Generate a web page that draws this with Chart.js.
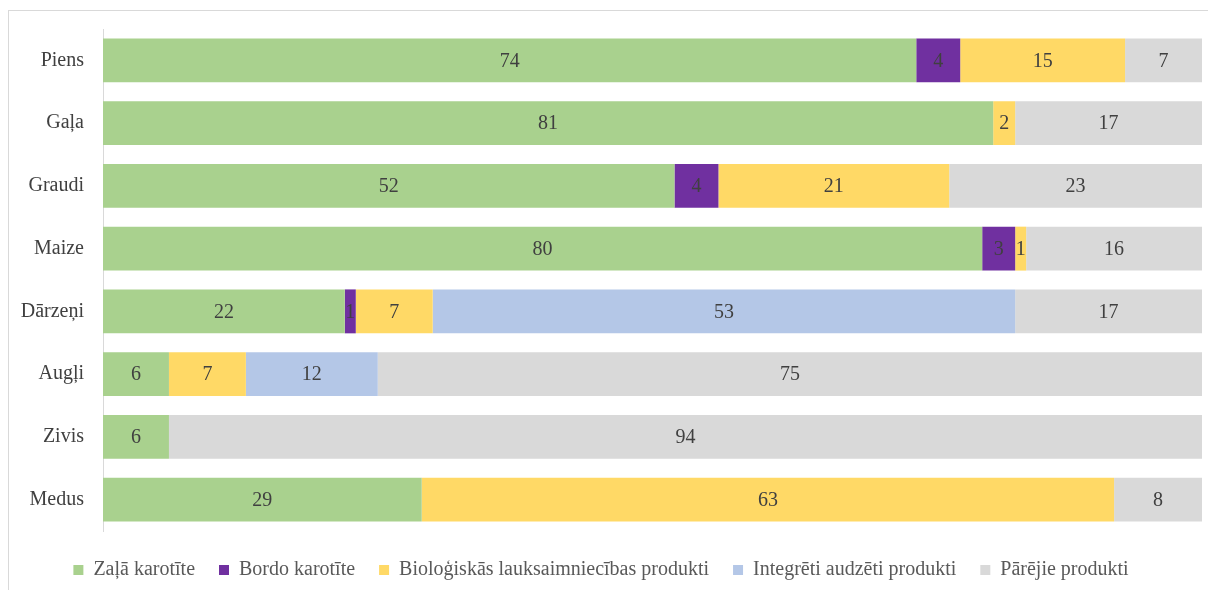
<!DOCTYPE html>
<html>
<head>
<meta charset="utf-8">
<script src="https://cdn.jsdelivr.net/npm/chart.js@4"></script>
<style>
  html, body { margin: 0; padding: 0; background: #fff; }
  #frame { position: absolute; left: 8px; top: 10px; width: 1210px; height: 590px; border: 1px solid #d9d9d9; box-sizing: border-box; }
  #wrap { position: absolute; left: 0; top: 0; width: 1208px; height: 590px; }
</style>
</head>
<body>
<div id="frame"></div>
<div id="wrap"><canvas id="chart"></canvas></div>
<script>
// kategorijas un sērijas
const categories = ['Piens', 'Gaļa', 'Graudi', 'Maize', 'Dārzeņi', 'Augļi', 'Zivis', 'Medus'];
const zalaKarotite = [74, 81, 52, 80, 22, 6, 6, 29];
const bordoKarotite = [4, 0, 4, 3, 1, 0, 0, 0];
const biologiskie = [15, 2, 21, 1, 7, 7, 0, 63];
const integreti = [0, 0, 0, 0, 53, 12, 0, 0];
const parejie = [7, 17, 23, 16, 17, 75, 94, 8];

const seriesNames = [
    'Zaļā karotīte',
    'Bordo karotīte',
    'Bioloģiskās lauksaimniecības produkti',
    'Integrēti audzēti produkti',
    'Pārējie produkti'
];
const seriesValues = [zalaKarotite, bordoKarotite, biologiskie, integreti, parejie];
const colors = ['#A9D18E', '#7030A0', '#FFD966', '#B4C7E7', '#D9D9D9'];

const fontFamily = '"Liberation Serif", "Times New Roman", serif';

// vērtību uzraksti stabiņos
const valueLabels = {
    id: 'valueLabels',
    afterDatasetsDraw(chart) {
        const ctx = chart.ctx;
        ctx.save();
        ctx.font = '20px ' + fontFamily;
        ctx.fillStyle = '#404040';
        ctx.textAlign = 'center';
        ctx.textBaseline = 'middle';
        chart.data.datasets.forEach((ds, i) => {
            const meta = chart.getDatasetMeta(i);
            meta.data.forEach((bar, j) => {
                const v = ds.data[j];
                if (!v) return;
                const p = bar.getProps(['x', 'base', 'y'], true);
                ctx.fillText(String(v), (p.x + p.base) / 2, p.y + 1);
            });
        });
        ctx.restore();
    }
};

const ctx = document.getElementById('chart').getContext('2d');
new Chart(ctx, {
    type: 'bar',
    data: {
        labels: categories,
        datasets: seriesNames.map((name, i) => ({
            label: name,
            data: seriesValues[i],
            backgroundColor: colors[i],
            borderWidth: 0,
            categoryPercentage: 0.7,
            barPercentage: 1
        }))
    },
    options: {
        indexAxis: 'y',
        responsive: true,
        maintainAspectRatio: false,
        animation: false,
        layout: { padding: { top: 29, right: 6, bottom: 0, left: 0 } },
        scales: {
            x: {
                stacked: true, min: 0, max: 100,
                ticks: { display: false },
                grid: { display: false, drawTicks: false },
                border: { display: false },
                afterFit(scale) { scale.height = 5; }
            },
            y: {
                stacked: true,
                grid: { display: false },
                border: { display: true, color: '#d9d9d9' },
                ticks: { font: { family: fontFamily, size: 20 }, color: '#404040', padding: 11 },
                afterFit(scale) { scale.width = 103; }
            }
        },
        plugins: {
            legend: {
                position: 'bottom',
                labels: {
                    boxWidth: 10,
                    boxHeight: 10,
                    padding: 24,
                    color: '#595959',
                    font: { family: fontFamily, size: 20 }
                }
            },
            tooltip: { enabled: false }
        }
    },
    plugins: [valueLabels]
});
</script>
</body>
</html>
